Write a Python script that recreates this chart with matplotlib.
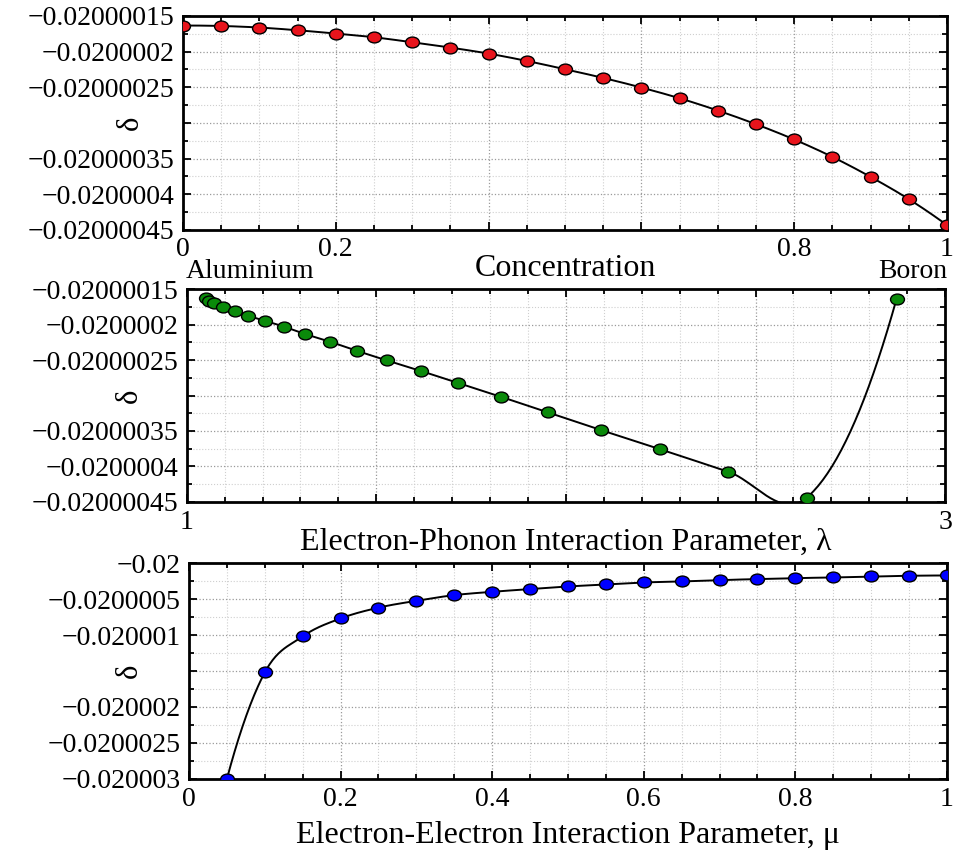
import numpy as np
import matplotlib
matplotlib.use("Agg")
import matplotlib.pyplot as plt
from matplotlib.path import Path
from matplotlib.transforms import Affine2D
from matplotlib.ticker import AutoMinorLocator

plt.rcParams["font.family"] = ["Liberation Serif", "DejaVu Serif"]

# ---- data ----
conc = [0.0, 0.05, 0.1, 0.15, 0.2, 0.25, 0.3, 0.35, 0.4, 0.45, 0.5,
        0.55, 0.6, 0.65, 0.7, 0.75, 0.8, 0.85, 0.9, 0.95, 1.0]
delta_conc = [-0.0200001634, -0.0200001640, -0.0200001662, -0.0200001700,
              -0.0200001746, -0.0200001798, -0.0200001868, -0.0200001943,
              -0.0200002027, -0.0200002130, -0.0200002246, -0.0200002368,
              -0.0200002503, -0.0200002653, -0.0200002825, -0.0200003017,
              -0.0200003231, -0.0200003475, -0.0200003755, -0.0200004067,
              -0.0200004431]

lam = [1.050, 1.059, 1.073, 1.097, 1.127, 1.162, 1.206, 1.257, 1.312, 1.378,
       1.448, 1.527, 1.618, 1.716, 1.828, 1.952, 2.092, 2.249, 2.428, 2.635,
       2.872]
delta_lam = [-0.0200001627, -0.0200001661, -0.0200001698, -0.0200001754,
             -0.0200001806, -0.0200001873, -0.0200001944, -0.0200002028,
             -0.0200002131, -0.0200002240, -0.0200002367, -0.0200002503,
             -0.0200002654, -0.0200002823, -0.0200003017, -0.0200003237,
             -0.0200003487, -0.0200003760, -0.0200004076, -0.0200004443,
             -0.0200001633]

mu = [0.05, 0.1, 0.15, 0.2, 0.25, 0.3, 0.35, 0.4, 0.45, 0.5,
      0.55, 0.6, 0.65, 0.7, 0.75, 0.8, 0.85, 0.9, 0.95, 1.0]
delta_mu = [-0.0200030, -0.02000152, -0.02000102, -0.02000077, -0.02000062,
            -0.020000525, -0.020000446, -0.0200004, -0.020000362, -0.020000326,
            -0.020000298, -0.02000027, -0.020000256, -0.020000237, -0.020000223,
            -0.020000209, -0.020000201, -0.020000187, -0.020000177, -0.020000173]

yt_small = [-0.02000045, -0.0200004, -0.02000035, -0.0200003,
            -0.02000025, -0.0200002, -0.02000015]
yl_small = ["−0.02000045", "−0.0200004", "−0.02000035", "",
            "−0.02000025", "−0.0200002", "−0.02000015"]
yt_mu = [-0.020003, -0.0200025, -0.020002, -0.0200015,
         -0.020001, -0.0200005, -0.02]
yl_mu = ["−0.020003", "−0.0200025", "−0.020002", "",
         "−0.020001", "−0.0200005", "−0.02"]


def smooth(x, y, n=40):
    # local cubic hermite through the points (three-point tangents)
    x = np.asarray(x, float)
    y = np.asarray(y, float)
    h = np.diff(x)
    s = np.diff(y) / h
    m = np.empty_like(y)
    m[1:-1] = (h[1:] * s[:-1] + h[:-1] * s[1:]) / (h[:-1] + h[1:])
    m[0] = 2 * s[0] - m[1]
    m[-1] = 2 * s[-1] - m[-2]
    xs_all, ys_all = [], []
    for i in range(len(h)):
        t = np.linspace(0, 1, n)
        h00 = 2 * t ** 3 - 3 * t ** 2 + 1
        h10 = t ** 3 - 2 * t ** 2 + t
        h01 = -2 * t ** 3 + 3 * t ** 2
        h11 = t ** 3 - t ** 2
        xs_all.append(x[i] + t * h[i])
        ys_all.append(h00 * y[i] + h10 * h[i] * m[i]
                      + h01 * y[i + 1] + h11 * h[i] * m[i + 1])
    return np.concatenate(xs_all), np.concatenate(ys_all)


ellipse = Path.unit_circle().transformed(Affine2D().scale(1.0, 0.78))

fig = plt.figure(figsize=(9.54, 8.55), dpi=100)
ax1 = fig.add_axes([0.1918, 0.731, 0.8008, 0.2503])
ax2 = fig.add_axes([0.1957, 0.4132, 0.7950, 0.2484])
ax3 = fig.add_axes([0.1981, 0.0889, 0.7945, 0.2526])


def style(ax, xpad):
    for sp in ax.spines.values():
        sp.set_linewidth(2.0)
    ax.tick_params(which="both", direction="in", top=True, right=True,
                   labelsize=20, width=1.3)
    ax.tick_params(axis="x", which="both", pad=xpad)
    ax.tick_params(axis="y", which="both", pad=6)
    ax.tick_params(which="major", length=6)
    ax.tick_params(which="minor", length=3.5)
    ax.grid(which="major", color="#9a9a9a", linestyle=":", linewidth=0.9)
    ax.grid(which="minor", color="#cfcfcf", linestyle=":", linewidth=0.8)
    ax.set_axisbelow(True)


def draw(ax, x, y, color):
    xs, ys = smooth(x, y)
    ax.plot(xs, ys, color="black", linewidth=1.4, zorder=2)
    ax.plot(x, y, linestyle="none", marker=ellipse, markersize=10,
            markerfacecolor=color, markeredgecolor="black",
            markeredgewidth=1.0, zorder=3)


# top: concentration
draw(ax1, conc, delta_conc, "#e8141c")
ax1.set_xlim(0, 1)
ax1.set_ylim(-0.02000045, -0.02000015)
ax1.set_xticks([0, 0.2, 0.4, 0.6, 0.8, 1], ["0", "0.2", "", "", "0.8", "1"])
ax1.set_yticks(yt_small, yl_small)
ax1.xaxis.set_minor_locator(AutoMinorLocator(4))
ax1.yaxis.set_minor_locator(AutoMinorLocator(2))
style(ax1, 5)
ax1.set_xlabel("Concentration", fontsize=23, va="center")
ax1.xaxis.set_label_coords(0.5, -0.178)
ax1.text(0.003, -0.196, "Aluminium", transform=ax1.transAxes,
         ha="left", va="center", fontsize=20)
ax1.text(1.0, -0.196, "Boron", transform=ax1.transAxes,
         ha="right", va="center", fontsize=20)
ax1.set_ylabel("δ", fontsize=22, va="center")
ax1.yaxis.set_label_coords(-0.069, 0.5)

# middle: electron-phonon
draw(ax2, lam, delta_lam, "#0a8a0a")
ax2.set_xlim(1, 3)
ax2.set_ylim(-0.02000045, -0.02000015)
ax2.set_xticks([1, 1.5, 2, 2.5, 3], ["1", "", "", "", "3"])
ax2.set_yticks(yt_small, yl_small)
ax2.xaxis.set_minor_locator(AutoMinorLocator(5))
ax2.yaxis.set_minor_locator(AutoMinorLocator(2))
style(ax2, 6)
ax2.set_xlabel("Electron-Phonon Interaction Parameter, λ", fontsize=23,
               va="center")
ax2.xaxis.set_label_coords(0.5, -0.19)
ax2.set_ylabel("δ", fontsize=22, va="center")
ax2.yaxis.set_label_coords(-0.075, 0.5)

# bottom: electron-electron
draw(ax3, mu, delta_mu, "#0000ff")
ax3.set_xlim(0, 1)
ax3.set_ylim(-0.020003, -0.02)
ax3.set_xticks([0, 0.2, 0.4, 0.6, 0.8, 1], ["0", "0.2", "0.4", "0.6", "0.8", "1"])
ax3.set_yticks(yt_mu, yl_mu)
ax3.xaxis.set_minor_locator(AutoMinorLocator(4))
ax3.yaxis.set_minor_locator(AutoMinorLocator(2))
style(ax3, 6)
ax3.set_xlabel("Electron-Electron Interaction Parameter, μ", fontsize=23,
               va="center")
ax3.xaxis.set_label_coords(0.5, -0.26)
ax3.set_ylabel("δ", fontsize=22, va="center")
ax3.yaxis.set_label_coords(-0.078, 0.5)

fig.savefig("out.png", dpi=100)
